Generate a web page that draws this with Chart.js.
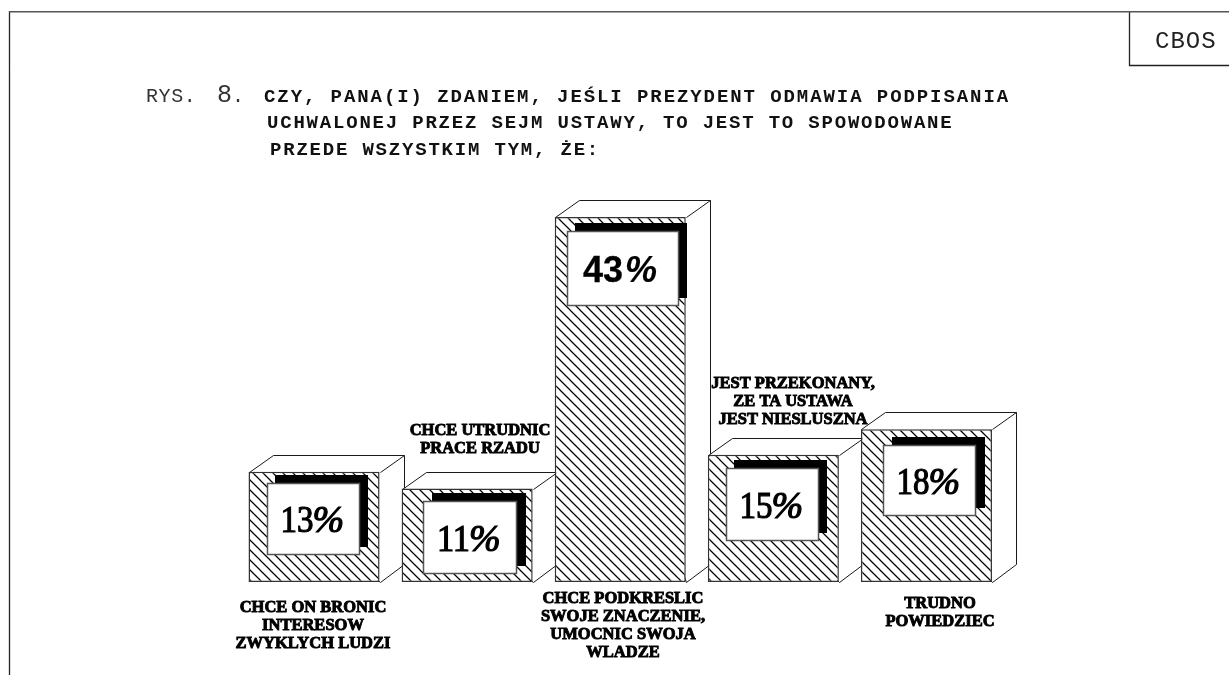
<!DOCTYPE html>
<html lang="pl">
<head>
<meta charset="utf-8">
<style>
html,body{margin:0;padding:0;background:#fff;overflow:hidden}
#wrap{position:absolute;left:0;top:0;width:1229px;height:675px}
</style>
<script src="https://cdn.jsdelivr.net/npm/chart.js@4"></script>
</head>
<body>
<div id="wrap"><canvas id="c" width="1229" height="675"></canvas></div>
<script>
const categories = ["CHCE ON BRONIC INTERESOW ZWYKLYCH LUDZI","CHCE UTRUDNIC PRACE RZADU","CHCE PODKRESLIC SWOJE ZNACZENIE, UMOCNIC SWOJA WLADZE","JEST PRZEKONANY, ZE TA USTAWA JEST NIESLUSZNA","TRUDNO POWIEDZIEC"];
const values = [13,11,43,15,18];
const valueLabels = ["13","11","43","15","18"];
const categoryLines = [
  ["CHCE ON BRONIC","INTERESOW","ZWYKLYCH LUDZI"],
  ["CHCE UTRUDNIC","PRACE RZADU"],
  ["CHCE PODKRESLIC","SWOJE ZNACZENIE,","UMOCNIC SWOJA","WLADZE"],
  ["JEST PRZEKONANY,","ZE TA USTAWA","JEST NIESLUSZNA"],
  ["TRUDNO","POWIEDZIEC"]
];

// styling constants
const labelAnchors = [[313,612],[480,435],[623,603],[793,388],[940,608]];
const boxStyle = [
  {dx:19,dy:12,w:91,h:70,sx:7},
  {dx:22,dy:13,w:92,h:71,sx:8},
  {dx:13,dy:15,w:110,h:73,sx:7},
  {dx:19,dy:14,w:91,h:71,sx:7},
  {dx:23,dy:17,w:91,h:69,sx:8}
];
const DEPTH_X = 24, DEPTH_Y = 17;
const INK = '#1a1a1a';

function hatch(ctx){
  const n = 10;
  const p = document.createElement('canvas');
  p.width = n; p.height = n;
  const g = p.getContext('2d');
  g.fillStyle = '#fff'; g.fillRect(0,0,n,n);
  g.strokeStyle = '#000'; g.lineWidth = 1.25;
  g.beginPath();
  g.moveTo(-1,-1); g.lineTo(n+1,n+1);
  g.moveTo(-n-1,-1); g.lineTo(1,n+1);
  g.moveTo(n-1,-1); g.lineTo(2*n+1,n+1);
  g.stroke();
  return ctx.createPattern(p,'repeat');
}

function heavy(ctx,text,x,y,width,maxW){
  ctx.lineWidth = width;
  if(maxW){ ctx.strokeText(text,x,y,maxW); ctx.fillText(text,x,y,maxW); }
  else { ctx.strokeText(text,x,y); ctx.fillText(text,x,y); }
}

const sketch = {
  id:'sketch',
  beforeDatasetsDraw(chart){
    const ctx = chart.ctx;
    const meta = chart.getDatasetMeta(0);
    ctx.save();
    ctx.strokeStyle = INK; ctx.lineWidth = 1; ctx.fillStyle = '#fff';
    meta.data.forEach(bar=>{
      const l = Math.round(bar.x-bar.width/2)+.5, r = Math.round(bar.x+bar.width/2)+.5;
      const t = Math.round(bar.y)+.5, b = Math.round(bar.base)+.5;
      ctx.beginPath();
      ctx.moveTo(l,t); ctx.lineTo(l+DEPTH_X,t-DEPTH_Y); ctx.lineTo(r+DEPTH_X,t-DEPTH_Y);
      ctx.lineTo(r+DEPTH_X,b-DEPTH_Y-1); ctx.lineTo(r,b); ctx.closePath();
      ctx.fill(); ctx.stroke();
      ctx.beginPath();
      ctx.moveTo(r,t); ctx.lineTo(r+DEPTH_X,t-DEPTH_Y);
      ctx.stroke();
    });
    ctx.restore();
  },
  afterDatasetsDraw(chart){
    const ctx = chart.ctx;
    const meta = chart.getDatasetMeta(0);
    ctx.save();
    meta.data.forEach((bar,i)=>{
      const s = boxStyle[i];
      const l = Math.round(bar.x-bar.width/2), t = Math.round(bar.y);
      const x = l+s.dx, y = t+s.dy;
      ctx.fillStyle = '#000';
      ctx.fillRect(x+s.sx, y-9, s.w+2, s.h+2);
      ctx.fillStyle = '#fff';
      ctx.fillRect(x,y,s.w,s.h);
      ctx.strokeStyle = '#555'; ctx.lineWidth = 1.5;
      ctx.strokeRect(x-.5,y-.5,s.w+1,s.h+1);
      ctx.fillStyle = '#000'; ctx.strokeStyle = '#000';
      ctx.textAlign='left'; ctx.textBaseline='alphabetic';
      const cx = x+s.w/2-1, by = y+s.h/2+13;
      if(i===2){
        ctx.font = 'bold 36px "Liberation Sans"';
        heavy(ctx,valueLabels[i],cx-39,by,.3);
        ctx.font = 'italic bold 36px "Liberation Sans"';
        heavy(ctx,'%',cx+3,by,.2,36);
      } else {
        ctx.font = '38px "Liberation Serif"';
        heavy(ctx,valueLabels[i],cx-32,by,1.2,33);
        ctx.font = 'italic 38px "Liberation Serif"';
        heavy(ctx,'%',cx,by,1.2,33);
      }
    });
    // category labels
    ctx.font = 'bold 16.5px "Liberation Serif"';
    ctx.textAlign='center'; ctx.textBaseline='alphabetic';
    ctx.fillStyle='#000'; ctx.strokeStyle='#000';
    categoryLines.forEach((lines,i)=>{
      const [cx,y0] = labelAnchors[i];
      lines.forEach((ln,k)=>heavy(ctx,ln,cx,y0+k*18,.9));
    });
    // title
    ctx.textAlign='left';
    ctx.fillStyle='#333';
    ctx.font='20px "Liberation Mono"';
    ctx.letterSpacing='.6px';
    ctx.fillText('RYS.',146,102);
    ctx.font='25px "Liberation Mono"';
    ctx.letterSpacing='0px';
    ctx.fillText('8',217,102);
    ctx.font='20px "Liberation Mono"';
    ctx.fillText('.',232,102);
    ctx.font='bold 19px "Liberation Mono"';
    ctx.fillStyle='#111';
    ctx.letterSpacing='1.92px';
    ctx.fillText('CZY, PANA(I) ZDANIEM, JEŚLI PREZYDENT ODMAWIA PODPISANIA',264,102);
    ctx.letterSpacing='1.8px';
    ctx.fillText('UCHWALONEJ PRZEZ SEJM USTAWY, TO JEST TO SPOWODOWANE',267,128);
    ctx.fillText('PRZEDE WSZYSTKIM TYM, ŻE:',270,155);
    ctx.letterSpacing='1px';
    ctx.font='24px "Liberation Mono"';
    ctx.fillStyle='#222';
    ctx.fillText('CBOS',1155,48);
    ctx.letterSpacing='0px';
    // frame
    ctx.lineWidth=1.3; ctx.strokeStyle='#222';
    ctx.beginPath();
    ctx.moveTo(9.5,675); ctx.lineTo(9.5,11);
    ctx.moveTo(1129.5,12); ctx.lineTo(1129.5,65.5); ctx.lineTo(1229,65.5);
    ctx.stroke();
    ctx.strokeStyle='#555'; ctx.lineWidth=1.5;
    ctx.beginPath();
    ctx.moveTo(9,11.75); ctx.lineTo(1229,11.75);
    ctx.stroke();
    ctx.restore();
  }
};

const ctx = document.getElementById('c').getContext('2d');
new Chart(ctx,{
  type:'bar',
  data:{labels:categories,datasets:[{data:values,backgroundColor:hatch(ctx),borderColor:'#333',borderWidth:1.5,borderSkipped:false,barPercentage:.856,categoryPercentage:1}]},
  options:{
    responsive:false,animation:false,
    layout:{padding:{left:237.5,right:226,top:110,bottom:93}},
    plugins:{legend:{display:false},tooltip:{enabled:false},title:{display:false}},
    scales:{
      x:{display:false},
      y:{display:false,min:0,max:55.6}
    }
  },
  plugins:[sketch]
});
</script>
</body>
</html>
